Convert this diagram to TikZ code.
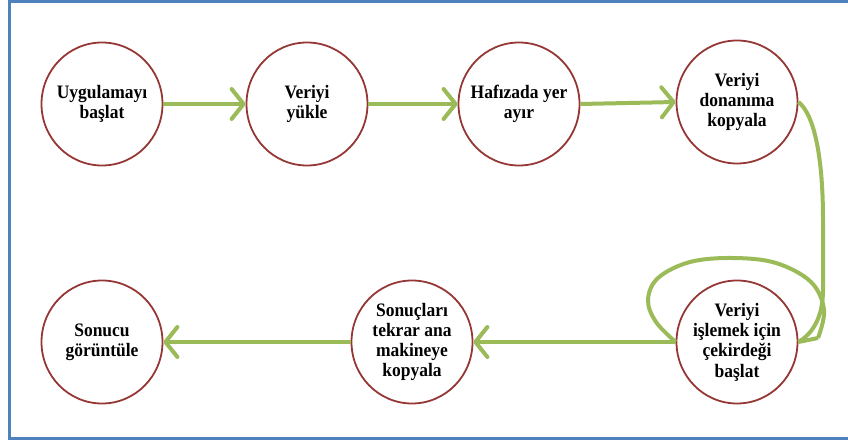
\documentclass[tikz,border=0pt]{standalone}
\usepackage{fontspec}
\setmainfont{Liberation Serif}[FakeStretch=0.92]
\usetikzlibrary{shapes.geometric,arrows.meta}
\definecolor{frameblue}{HTML}{4F81BD}
\definecolor{ringred}{HTML}{953735}
\definecolor{flowgreen}{HTML}{9BBB59}
\tikzset{
  stepnode/.style={ellipse, draw=ringred, line width=1.8pt, minimum width=121pt, minimum height=123pt, inner sep=0pt, fill=white},
  steptext/.style={align=center, inner sep=0pt, font=\fontsize{19}{20.3}\selectfont\bfseries},
  flow/.style={draw=flowgreen, line width=4pt},
  flowarrow/.style={flow, -{Straight Barb[length=12pt, width=30pt, line width=4pt, round]}},
}
\begin{document}
\begin{tikzpicture}[x=1pt, y=-1pt]
\useasboundingbox (0,0) rectangle (848,441);
\draw[frameblue, line width=3pt] (848,1.5) -- (9,1.5) -- (9,438) -- (848,438);

\node[stepnode, label={[steptext]center:Uygulamayı\\başlat}] (n1) at (102,104) {};
\node[stepnode, label={[steptext]center:Veriyi\\yükle}] (n2) at (307,104) {};
\node[stepnode, label={[steptext]center:Hafızada yer\\ayır}] (n3) at (519,104) {};
\node[stepnode, label={[steptext]center:Veriyi\\donanıma\\kopyala}] (n4) at (737,102) {};
\node[stepnode, label={[steptext]center:Veriyi\\işlemek için\\çekirdeği\\başlat}] (n5) at (737,342) {};
\node[stepnode, label={[steptext]center:Sonuçları\\tekrar ana\\makineye\\kopyala}] (n6) at (412,342) {};
\node[stepnode, label={[steptext]center:Sonucu\\görüntüle}] (n7) at (102,342) {};

\draw[flowarrow] (n1.east) -- (n2.west);
\draw[flowarrow] (n2.east) -- (n3.west);
\draw[flowarrow] (n3.east) -- (n4.west);

\coordinate (tailR) at (818,338);
\draw[flow] (n4.east) .. controls (815,115) and (823,160) .. (823,220) -- (823,290) .. controls (823,318) and (812,334) .. (n5.east);
\draw[flow] (n5.east) -- (tailR);
\draw[flow] plot[smooth, tension=0.6] coordinates {(tailR) (824,310) (811,282) (776,263) (733,258) (690,262) (658,278) (648,300) (656,322) (n5.west)};
\draw[flowarrow] (n5.west) -- (n6.east);
\draw[flowarrow] (n6.west) -- (n7.east);
\end{tikzpicture}
\end{document}
